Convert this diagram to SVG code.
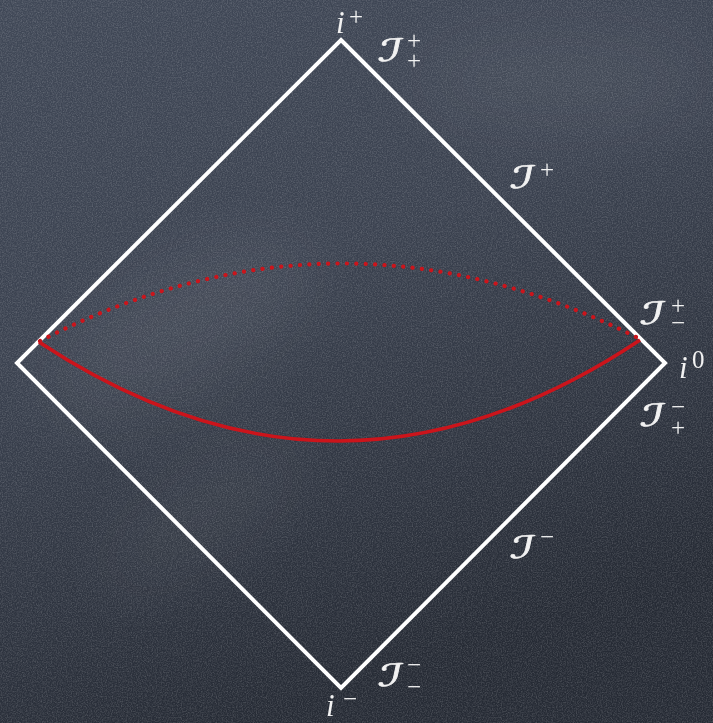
<svg xmlns="http://www.w3.org/2000/svg" width="713" height="723" viewBox="0 0 713 723">
<defs>
<linearGradient id="bg" x1="0" y1="0" x2="0.35" y2="1">
<stop offset="0" stop-color="#404857"/>
<stop offset="0.45" stop-color="#3b4250"/>
<stop offset="1" stop-color="#262b35"/>
</linearGradient>
<filter id="chalk" x="0" y="0" width="100%" height="100%">
<feTurbulence type="fractalNoise" baseFrequency="0.8" numOctaves="2" seed="4"/>
<feColorMatrix type="matrix" values="0 0 0 0 1  0 0 0 0 1  0 0 0 0 1  0.35 0 0 0 -0.13"/>
</filter>
<filter id="blur" x="-50%" y="-50%" width="200%" height="200%"><feGaussianBlur stdDeviation="35"/></filter>
<style>
.frame{fill:none;stroke:#ffffff;stroke-width:4;stroke-linejoin:miter}
.red{fill:none;stroke:#cc141b;stroke-width:3.5}
.dots{fill:none;stroke:#cc141b;stroke-width:4.2;stroke-linecap:round;stroke-dasharray:0.1 9.3}
.lbl{fill:#f2f2f2;font-family:"Liberation Serif","DejaVu Serif",serif}
.it{font-style:italic;font-size:31px}
.scr{font-family:"DejaVu Sans",sans-serif;font-size:31px;stroke:#f2f2f2;stroke-width:0.6}
.idx{font-size:25px}
</style>
</defs>
<g id="background">
<rect width="713" height="723" fill="url(#bg)"/>
<g filter="url(#blur)" fill="#ffffff">
<ellipse cx="180" cy="330" rx="150" ry="60" opacity="0.06" transform="rotate(-30 180 330)"/>
<ellipse cx="560" cy="80" rx="150" ry="50" opacity="0.05"/>
<ellipse cx="200" cy="520" rx="120" ry="40" opacity="0.05" transform="rotate(-35 200 520)"/>
</g>
<rect width="713" height="723" filter="url(#chalk)"/>
</g>
<g id="diagram">
<polygon id="boundary" class="frame" points="341,40 665,363 341,688 17,363"/>
<g id="curves">
<path id="dotted-slice" class="dots" d="M40,341 Q340,187 640,339"/>
<path id="solid-slice" class="red" d="M39,342 Q339.5,541 640,340"/>
</g>
</g>
<g id="labels" class="lbl">
<g id="i-plus"><text class="it" x="336" y="33">i</text><text class="idx" x="349" y="25">+</text></g>
<g id="scri-plus-plus"><text class="scr" transform="translate(377,61) skewX(-12) scale(1.6,1)">ℐ</text><text class="idx" x="407" y="49">+</text><text class="idx" x="407" y="69">+</text></g>
<g id="scri-plus"><text class="scr" transform="translate(509,188) skewX(-12) scale(1.6,1)">ℐ</text><text class="idx" x="540" y="178">+</text></g>
<g id="scri-plus-minus"><text class="scr" transform="translate(639,324) skewX(-12) scale(1.6,1)">ℐ</text><text class="idx" x="671" y="314">+</text><text class="idx" x="671" y="331">−</text></g>
<g id="i-zero"><text class="it" x="679" y="378">i</text><text class="idx" x="692" y="368">0</text></g>
<g id="scri-minus-plus"><text class="scr" transform="translate(639,426) skewX(-12) scale(1.6,1)">ℐ</text><text class="idx" x="671" y="415">−</text><text class="idx" x="671" y="436">+</text></g>
<g id="scri-minus"><text class="scr" transform="translate(509,558) skewX(-12) scale(1.6,1)">ℐ</text><text class="idx" x="540" y="545">−</text></g>
<g id="scri-minus-minus"><text class="scr" transform="translate(377,686) skewX(-12) scale(1.6,1)">ℐ</text><text class="idx" x="407" y="673">−</text><text class="idx" x="407" y="695">−</text></g>
<g id="i-minus"><text class="it" x="326" y="716">i</text><text class="idx" x="343" y="707">−</text></g>
</g>
</svg>
